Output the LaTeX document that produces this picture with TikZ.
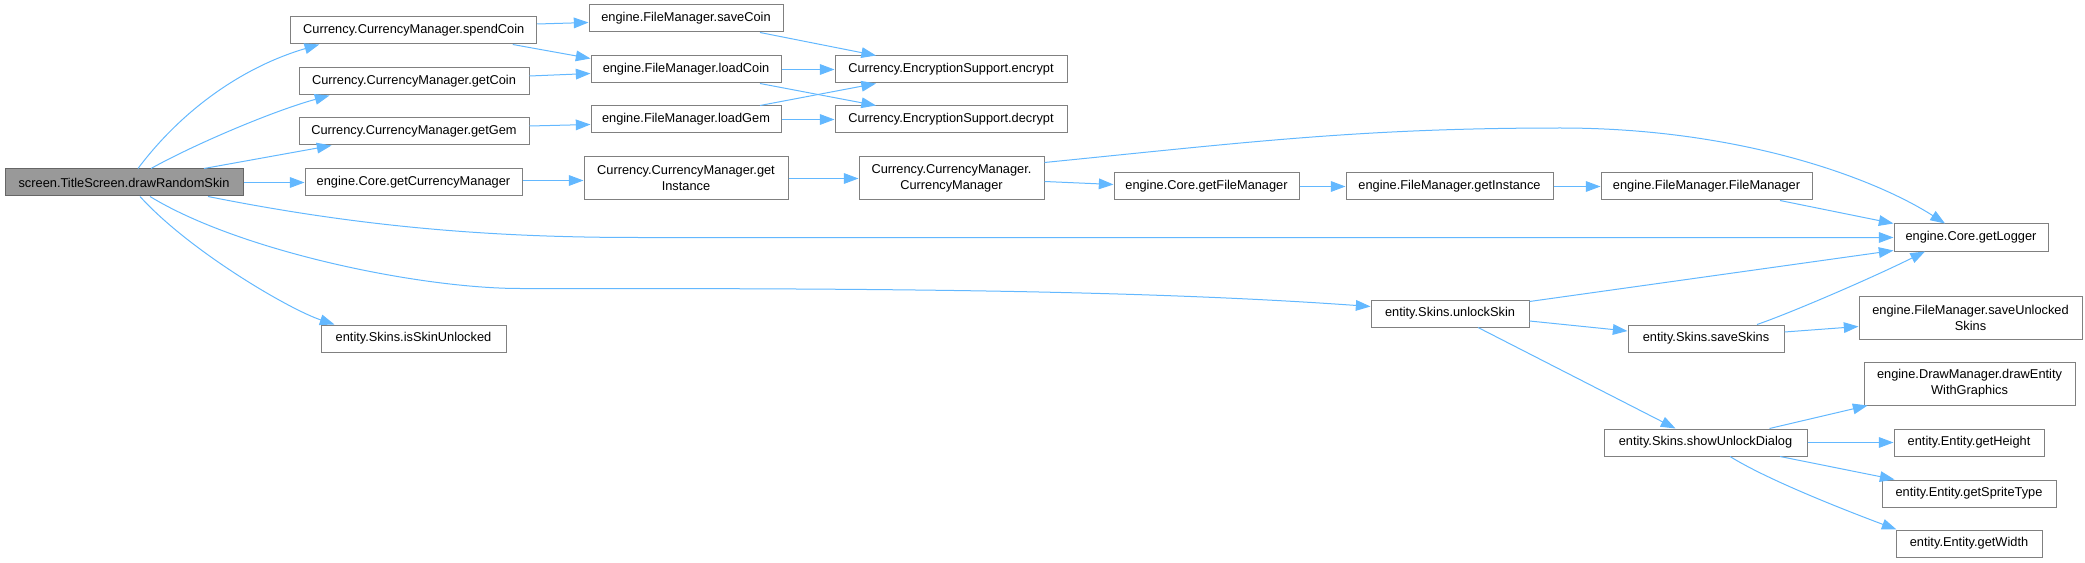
\documentclass[tikz,border=0pt]{standalone}
\usepackage{fontspec}
\setmainfont{Liberation Sans}
\usetikzlibrary{arrows.meta,calc}

\definecolor{edgeblue}{HTML}{63B8FF}
\definecolor{boxgray}{HTML}{808080}
\definecolor{rootfill}{HTML}{999999}
\definecolor{rootline}{HTML}{666666}

\begin{document}
\begin{tikzpicture}[x=0.75pt, y=-0.75pt,
  fn/.style={draw=boxgray, fill=white, line width=0.75pt, inner sep=0pt, align=center,
    font=\fontsize{9.6}{12}\selectfont, minimum height=27*0.75pt},
  tall/.style={minimum height=43*0.75pt},
  wide/.style={minimum width=#1*0.75pt},
  call/.style={draw=edgeblue, line width=0.75pt, -{Triangle[length=11pt,width=8pt]}}]

\useasboundingbox (0,0) rectangle (2085,563);

% ========== Caller ==========
\node[fn, wide=238, fill=rootfill, draw=rootline] (drawRandomSkin) at (124,182.5) {screen.TitleScreen.drawRandomSkin};

% ========== Direct callees ==========
\node[fn, wide=246] (spendCoin) at (413.75,30.5) {Currency.CurrencyManager.spendCoin};
\node[fn, wide=230] (getCoin) at (414,81.5) {Currency.CurrencyManager.getCoin};
\node[fn, wide=230] (getGem) at (414,131.5) {Currency.CurrencyManager.getGem};
\node[fn, wide=217] (getCurrencyManager) at (413.5,182.5) {engine.Core.getCurrencyManager};
\node[fn, wide=185] (isSkinUnlocked) at (413.5,338.5) {entity.Skins.isSkinUnlocked};

% ========== File manager / currency ==========
\node[fn, wide=194] (saveCoin) at (686,18.5) {engine.FileManager.saveCoin};
\node[fn, wide=190] (loadCoin) at (686,69.5) {engine.FileManager.loadCoin};
\node[fn, wide=190] (loadGem) at (686,119.5) {engine.FileManager.loadGem};
\node[fn, wide=204, tall] (getInstanceCM) at (686,178.5) {Currency.CurrencyManager.get\\Instance};

\node[fn, wide=232] (encrypt) at (951,69.5) {Currency.EncryptionSupport.encrypt};
\node[fn, wide=232] (decrypt) at (951,119.5) {Currency.EncryptionSupport.decrypt};
\node[fn, wide=185, tall] (ctorCM) at (951.5,178.5) {Currency.CurrencyManager.\\CurrencyManager};

\node[fn, wide=185] (getFileManager) at (1206.5,186.5) {engine.Core.getFileManager};
\node[fn, wide=207] (getInstanceFM) at (1449.5,186.5) {engine.FileManager.getInstance};
\node[fn, wide=211] (ctorFM) at (1706.5,186.5) {engine.FileManager.FileManager};
\node[fn, wide=154] (getLogger) at (1971,237.5) {engine.Core.getLogger};

% ========== Skins ==========
\node[fn, wide=158] (unlockSkin) at (1450,313.5) {entity.Skins.unlockSkin};
\node[fn, wide=156] (saveSkins) at (1706,338.5) {entity.Skins.saveSkins};
\node[fn, wide=223, tall] (saveUnlockedSkins) at (1970.5,317.5) {engine.FileManager.saveUnlocked\\Skins};
\node[fn, wide=203] (showUnlockDialog) at (1705.5,442.5) {entity.Skins.showUnlockDialog};

\node[fn, wide=211, tall] (drawEntity) at (1969.5,383.5) {engine.DrawManager.drawEntity\\WithGraphics};
\node[fn, wide=150] (getHeight) at (1969,442.5) {entity.Entity.getHeight};
\node[fn, wide=174] (getSpriteType) at (1969,493.5) {entity.Entity.getSpriteType};
\node[fn, wide=146] (getWidth) at (1969,543.5) {entity.Entity.getWidth};

% ========== Calls from drawRandomSkin ==========
\draw[call] ($(drawRandomSkin.north)+(14,0)$) .. controls +(45,-60) and +(-75,22) .. ($(spendCoin.south west)+(29,0)$);
\draw[call] ($(drawRandomSkin.north)+(27,0)$) .. controls +(45,-25) and +(-55,15) .. ($(getCoin.south west)+(31,0)$);
\draw[call] ($(drawRandomSkin.north)+(80,0)$) -- ($(getGem.south west)+(33,0)$);
\draw[call] (drawRandomSkin.east) -- (getCurrencyManager.west);
\draw[call] ($(drawRandomSkin.south)+(84,0)$) .. controls +(150,30) and +(-150,0) .. ++(430,41) -- (getLogger.west);
\draw[call] ($(drawRandomSkin.south)+(26,0)$) .. controls +(90,55) and +(-100,0) .. ++(370,92)
  .. controls +(300,0) and +(-250,-18) .. ($(unlockSkin.west)+(0,-7)$);
\draw[call] ($(drawRandomSkin.south)+(16,0)$) .. controls +(50,55) and +(-45,-15) .. ($(isSkinUnlocked.north west)+(14,0)$);

% ========== Currency calls ==========
\draw[call] ($(spendCoin.east)+(0,-6.5)$) -- ($(saveCoin.west)+(0,4)$);
\draw[call] ($(spendCoin.south)+(99,0)$) -- ($(loadCoin.north west)+(0,3)$);
\draw[call] ($(getCoin.east)+(0,-5.5)$) -- ($(loadCoin.west)+(0,4)$);
\draw[call] ($(getGem.east)+(0,-5.5)$) -- ($(loadGem.west)+(0,5)$);
\draw[call] ($(getCurrencyManager.east)+(0,-2)$) -- ($(getInstanceCM.west)+(0,2)$);

\draw[call] ($(saveCoin.south)+(74,0)$) -- ($(encrypt.north)+(-75,0)$);
\draw[call] (loadCoin.east) -- (encrypt.west);
\draw[call] ($(loadCoin.south)+(74,0)$) -- ($(decrypt.north)+(-75,0)$);
\draw[call] ($(loadGem.north)+(74,0)$) -- ($(encrypt.south)+(-75,0)$);
\draw[call] (loadGem.east) -- (decrypt.west);
\draw[call] (getInstanceCM.east) -- (ctorCM.west);

% ========== File manager chain ==========
\draw[call] ($(ctorCM.east)+(0,3)$) -- ($(getFileManager.west)+(0,-2)$);
\draw[call] ($(ctorCM.east)+(0,-16)$) .. controls +(200,-20) and +(-200,0) .. ++(516,-34.5)
  .. controls +(180,0) and +(-70,-45) .. ($(getLogger.north)+(-26,0)$);
\draw[call] (getFileManager.east) -- (getInstanceFM.west);
\draw[call] (getInstanceFM.east) -- (ctorFM.west);
\draw[call] ($(ctorFM.south)+(73.5,0)$) -- (getLogger.north west);

% ========== Skin calls ==========
\draw[call] ($(unlockSkin.north east)+(0,2)$) -- ($(getLogger.south west)+(0,-1)$);
\draw[call] ($(unlockSkin.east)+(0,7.5)$) -- ($(saveSkins.west)+(0,-7.5)$);
\draw[call] ($(unlockSkin.south)+(28,0)$) -- ($(showUnlockDialog.north)+(-30,0)$);
\draw[call] ($(saveSkins.north)+(51,0)$) .. controls +(35,-12) and +(-50,25) .. ($(getLogger.south)+(-46,0)$);
\draw[call] ($(saveSkins.east)+(0,-6.5)$) -- ($(saveUnlockedSkins.west)+(0,9)$);

\draw[call] ($(showUnlockDialog.north)+(64,0)$) -- ($(drawEntity.south west)+(4,0)$);
\draw[call] (showUnlockDialog.east) -- (getHeight.west);
\draw[call] ($(showUnlockDialog.south)+(74.5,0)$) -- ($(getSpriteType.north west)+(13,0)$);
\draw[call] ($(showUnlockDialog.south)+(24.5,0)$) .. controls +(40,25) and +(-40,-15) .. ($(getWidth.north west)+(1,0)$);

\end{tikzpicture}
\end{document}
